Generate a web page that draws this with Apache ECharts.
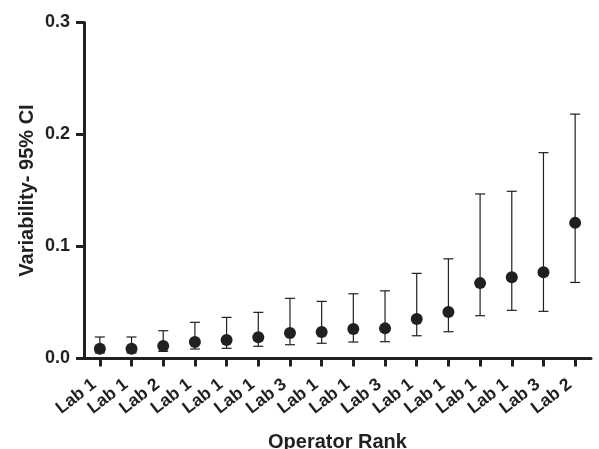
<!DOCTYPE html>
<html>
<head>
<meta charset="utf-8">
<script src="https://cdn.jsdelivr.net/npm/echarts@6/dist/echarts.min.js"></script>
<style>
  html, body { margin: 0; padding: 0; background: #ffffff; }
  #chart { width: 599px; height: 449px; }
</style>
</head>
<body>
<div id="chart"></div>
<script>
// Operators ordered by rank, labelled by their laboratory
var categories = ['Lab 1', 'Lab 1', 'Lab 2', 'Lab 1', 'Lab 1', 'Lab 1', 'Lab 3', 'Lab 1',
                  'Lab 1', 'Lab 3', 'Lab 1', 'Lab 1', 'Lab 1', 'Lab 1', 'Lab 3', 'Lab 2'];
// Point estimate of variability per operator
var variability = [0.0087, 0.0087, 0.0111, 0.0147, 0.0165, 0.0189, 0.0227, 0.0236,
                   0.0263, 0.0269, 0.0352, 0.0415, 0.0673, 0.0726, 0.0771, 0.1211];
// 95% confidence interval bounds
var ciLower = [0.0050, 0.0050, 0.0064, 0.0085, 0.0091, 0.0109, 0.0123, 0.0136,
               0.0147, 0.0150, 0.0203, 0.0239, 0.0382, 0.0430, 0.0421, 0.0679];
var ciUpper = [0.0192, 0.0192, 0.0248, 0.0323, 0.0367, 0.0412, 0.0537, 0.0510,
               0.0578, 0.0604, 0.0760, 0.0890, 0.1469, 0.1493, 0.1838, 0.2182];
var yTicks = [0, 0.1, 0.2, 0.3];

var ink = '#231f20';
var fontFamily = '"Liberation Sans", Arial, Helvetica, sans-serif';

var pointData = variability.map(function (v, i) { return [i, v]; });
var ciData = ciLower.map(function (lo, i) { return [i, lo, ciUpper[i]]; });

// Vertical interval with a cap at each end
function renderCI(params, api) {
  var idx = api.value(0);
  var lo = api.coord([idx, api.value(1)]);
  var hi = api.coord([idx, api.value(2)]);
  var half = 5;
  var style = { stroke: ink, lineWidth: 1.2 };
  return {
    type: 'group',
    children: [
      { type: 'line', shape: { x1: lo[0], y1: lo[1], x2: hi[0], y2: hi[1] }, style: style },
      { type: 'line', shape: { x1: hi[0] - half, y1: hi[1], x2: hi[0] + half, y2: hi[1] }, style: style },
      { type: 'line', shape: { x1: lo[0] - half, y1: lo[1], x2: lo[0] + half, y2: lo[1] }, style: style }
    ]
  };
}

var chart = echarts.init(document.getElementById('chart'), null, { renderer: 'canvas' });
chart.setOption({
  backgroundColor: '#ffffff',
  animation: false,
  grid: { left: 84, right: 8, top: 22.5, bottom: 90.5, containLabel: false, outerBoundsMode: 'none' },
  xAxis: {
    type: 'category',
    data: categories,
    boundaryGap: true,
    name: 'Operator Rank',
    nameLocation: 'middle',
    nameGap: 74,
    nameMoveOverlap: false,
    nameTextStyle: { fontFamily: fontFamily, fontSize: 20, fontWeight: 'bold', color: ink },
    axisLine: { show: true, lineStyle: { color: ink, width: 3 } },
    axisTick: { show: true, alignWithLabel: true, interval: 0, length: 8, lineStyle: { color: ink, width: 3 } },
    axisLabel: {
      interval: 0, rotate: 38, margin: 31, hideOverlap: false,
      fontFamily: fontFamily, fontSize: 17.5, fontWeight: 'bold', color: ink,
      verticalAlign: 'bottom', lineHeight: 18
    },
    splitLine: { show: false }
  },
  yAxis: {
    type: 'value',
    min: yTicks[0],
    max: yTicks[yTicks.length - 1],
    interval: yTicks[1] - yTicks[0],
    name: 'Variability- 95% CI',
    nameLocation: 'middle',
    nameGap: 47,
    nameMoveOverlap: false,
    nameTextStyle: { fontFamily: fontFamily, fontSize: 20, fontWeight: 'bold', color: ink },
    axisLine: { show: true, lineStyle: { color: ink, width: 3 } },
    axisTick: { show: true, length: 8, lineStyle: { color: ink, width: 3 } },
    axisLabel: {
      margin: 14, fontFamily: fontFamily, fontSize: 18, fontWeight: 'bold', color: ink,
      formatter: function (v) { return v.toFixed(1); }
    },
    splitLine: { show: false }
  },
  series: [
    {
      type: 'custom',
      renderItem: renderCI,
      data: ciData,
      encode: { x: 0, y: [1, 2] },
      z: 2
    },
    {
      type: 'scatter',
      data: pointData,
      symbol: 'circle',
      symbolSize: 12,
      itemStyle: { color: ink, opacity: 1 },
      z: 3
    }
  ]
});
</script>
</body>
</html>
